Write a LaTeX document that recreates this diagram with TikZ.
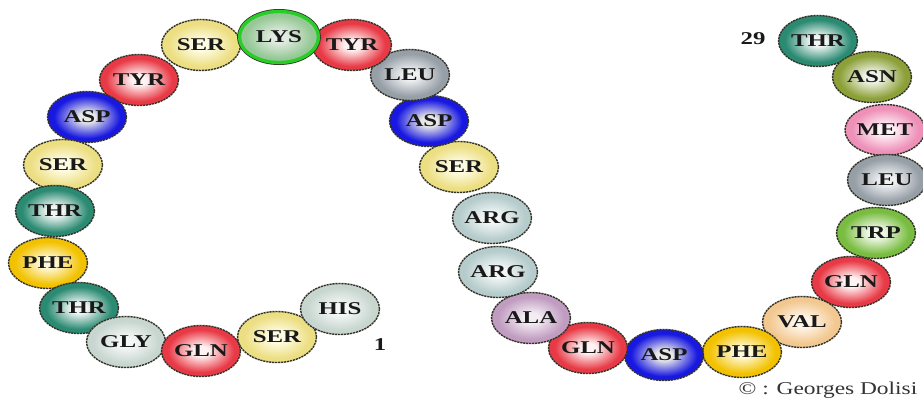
\documentclass[tikz,border=0pt]{standalone}
\usepackage{fontspec}
\setmainfont{Liberation Serif}
\usepackage{graphicx}
\usetikzlibrary{shapes.geometric}
\colorlet{aacin}{white}
\colorlet{aacout}{gray}
\pgfdeclareradialshading[aacin,aacout]{aaball}{\pgfpoint{0bp}{0bp}}{color(0bp)=(aacin); color(5bp)=(aacin); color(21bp)=(aacout); color(50bp)=(aacout)}
\definecolor{serO}{RGB}{236,222,130}\definecolor{serI}{RGB}{255,252,228}
\definecolor{lysO}{RGB}{150,200,150}\definecolor{lysI}{RGB}{225,235,225}\definecolor{lysR}{RGB}{40,205,40}
\definecolor{redO}{RGB}{232,58,70}\definecolor{redI}{RGB}{255,242,242}
\definecolor{leuO}{RGB}{150,158,166}\definecolor{leuI}{RGB}{238,240,242}
\definecolor{aspO}{RGB}{24,24,225}\definecolor{aspI}{RGB}{232,232,232}
\definecolor{argO}{RGB}{182,204,204}\definecolor{argI}{RGB}{242,246,246}
\definecolor{alaO}{RGB}{192,156,192}\definecolor{alaI}{RGB}{244,236,244}
\definecolor{pheO}{RGB}{242,194,0}\definecolor{pheI}{RGB}{255,248,216}
\definecolor{valO}{RGB}{242,200,144}\definecolor{valI}{RGB}{255,245,232}
\definecolor{trpO}{RGB}{120,188,64}\definecolor{trpI}{RGB}{240,248,232}
\definecolor{metO}{RGB}{238,144,184}\definecolor{metI}{RGB}{255,240,246}
\definecolor{asnO}{RGB}{140,160,56}\definecolor{asnI}{RGB}{240,244,232}
\definecolor{thrO}{RGB}{42,138,114}\definecolor{thrI}{RGB}{240,246,244}
\definecolor{glyO}{RGB}{200,214,208}\definecolor{glyI}{RGB}{244,248,246}
\definecolor{rimc}{RGB}{50,50,40}
\newcommand\aat[1]{\scalebox{1.38}[1]{#1}}
\tikzset{
  aa/.style 2 args={ellipse, minimum width=79pt, minimum height=51pt, inner sep=0pt,
    /utils/exec={\colorlet{aacin}{#1}\colorlet{aacout}{#2}}, shade, shading=aaball,
    draw=rimc, line width=1.4pt, dash pattern=on 2.2pt off 0.8pt,
    font=\fontsize{18}{18}\selectfont\bfseries, text=black!90},
  serS/.style={aa={serI}{serO}},
  lysS/.style={aa={lysI}{lysO}, draw=lysR, line width=3.4pt, solid,
    preaction={draw=rimc, line width=5pt, solid}},
  redS/.style={aa={redI}{redO}},
  leuS/.style={aa={leuI}{leuO}},
  aspS/.style={aa={aspI}{aspO}},
  argS/.style={aa={argI}{argO}},
  alaS/.style={aa={alaI}{alaO}},
  pheS/.style={aa={pheI}{pheO}},
  valS/.style={aa={valI}{valO}},
  trpS/.style={aa={trpI}{trpO}},
  metS/.style={aa={metI}{metO}},
  asnS/.style={aa={asnI}{asnO}},
  thrS/.style={aa={thrI}{thrO}},
  glyS/.style={aa={glyI}{glyO}},
  numS/.style={font=\fontsize{18}{18}\selectfont\bfseries, text=black!90, inner sep=0pt}
}
\begin{document}
\begin{tikzpicture}[x=1pt,y=-1pt]
\useasboundingbox (0,0) rectangle (923,401);
\fill[white] (0,0) rectangle (923,401);
\node[thrS] (r29) at (818,41) {\aat{THR}};
\node[asnS] (r28) at (872,77) {\aat{ASN}};
\node[metS] (r27) at (885,130) {\aat{MET}};
\node[leuS] (r26) at (887,180) {\aat{LEU}};
\node[trpS] (r25) at (876,233) {\aat{TRP}};
\node[redS] (r24) at (851,282) {\aat{GLN}};
\node[valS] (r23) at (802,322) {\aat{VAL}};
\node[pheS] (r22) at (742,352) {\aat{PHE}};
\node[aspS] (r21) at (664,355) {\aat{ASP}};
\node[redS] (r20) at (588,348) {\aat{GLN}};
\node[alaS] (r19) at (531,318) {\aat{ALA}};
\node[argS] (r18) at (498,272) {\aat{ARG}};
\node[argS] (r17) at (492,218) {\aat{ARG}};
\node[serS] (r16) at (459,167) {\aat{SER}};
\node[aspS] (r15) at (429,121) {\aat{ASP}};
\node[leuS] (r14) at (410,75) {\aat{LEU}};
\node[redS] (r13) at (352,45) {\aat{TYR}};
\node[serS] (r11) at (201,45) {\aat{SER}};
\node[lysS] (r12) at (279,37) {\aat{LYS}};
\node[redS] (r10) at (139,80) {\aat{TYR}};
\node[aspS] (r9) at (87,117) {\aat{ASP}};
\node[serS] (r8) at (63,165) {\aat{SER}};
\node[thrS] (r7) at (55,211) {\aat{THR}};
\node[pheS] (r6) at (48,263) {\aat{PHE}};
\node[thrS] (r5) at (79,308) {\aat{THR}};
\node[glyS] (r4) at (126,342) {\aat{GLY}};
\node[serS] (r2) at (277,337) {\aat{SER}};
\node[redS] (r3) at (201,351) {\aat{GLN}};
\node[glyS] (r1) at (340,309) {\aat{HIS}};
\node[numS] (n29) at (753,39) {\aat{29}};
\node[numS] (n1) at (380,345) {\aat{1}};
\node[font=\fontsize{18}{18}\selectfont, text=black!80, inner sep=0pt] (copy) at (828,390) {\scalebox{1.3}[1]{\textcopyright{} : Georges Dolisi}};
\end{tikzpicture}
\end{document}
